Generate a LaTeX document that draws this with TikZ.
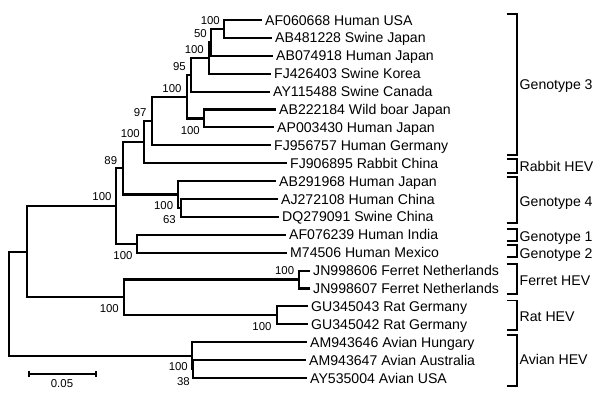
\documentclass[tikz,border=0pt]{standalone}
\usepackage{fontspec}
\setmainfont{Liberation Sans}
\begin{document}
\begin{tikzpicture}[x=1pt,y=-1pt,
  tree/.style={line width=2.1pt, line join=miter},
  brk/.style={line width=1.6pt, line join=miter},
  leaf/.style={anchor=west, inner xsep=3pt, inner ysep=0pt, font=\fontsize{14.1}{16}\selectfont, text height=10.1pt, text depth=0pt},
  boot/.style={anchor=east, inner sep=0pt, font=\fontsize{11.4}{13}\selectfont, text height=8.2pt, text depth=0pt},
  grp/.style={anchor=west, inner sep=0pt, font=\fontsize{14.1}{16}\selectfont, text height=10.1pt, text depth=0pt}]
\useasboundingbox[fill=white] (0,0) rectangle (600,396);
% internal nodes
\coordinate (root) at (9,303.7);
\coordinate (N) at (27.3,251.7);
\coordinate (M) at (116,206);
\coordinate (K) at (122.7,168.3);
\coordinate (H) at (144,142.1);
\coordinate (G) at (151.7,121);
\coordinate (F) at (187,96.6);
\coordinate (D) at (190.7,74.8);
\coordinate (C) at (209,58);
\coordinate (B) at (210.7,42.4);
\coordinate (A) at (224,28.95);
\coordinate (E) at (204,118.45);
\coordinate (I) at (178,194.5);
\coordinate (J) at (181,208);
\coordinate (L) at (137.3,243.7);
\coordinate (O) at (124,297.4);
\coordinate (P) at (299,279.5);
\coordinate (Q) at (277.3,315.3);
\coordinate (R) at (192,355.6);
\coordinate (S) at (193,369);
% leaves
\node[leaf] (l1) at (262,20) {AF060668 Human USA};
\node[leaf] (l2) at (272,37.9) {AB481228 Swine Japan};
\node[leaf] (l3) at (273,55.8) {AB074918 Human Japan};
\node[leaf] (l4) at (271,73.7) {FJ426403 Swine Korea};
\node[leaf] (l5) at (270,91.6) {AY115488 Swine Canada};
\node[leaf] (l6) at (276,109.5) {AB222184 Wild boar Japan};
\node[leaf] (l7) at (274,127.4) {AP003430 Human Japan};
\node[leaf] (l8) at (271,145.3) {FJ956757 Human Germany};
\node[leaf] (l9) at (287,163.2) {FJ906895 Rabbit China};
\node[leaf] (l10) at (276,181.1) {AB291968 Human Japan};
\node[leaf] (l11) at (278,199) {AJ272108 Human China};
\node[leaf] (l12) at (279,216.9) {DQ279091 Swine China};
\node[leaf] (l13) at (286,234.8) {AF076239 Human India};
\node[leaf] (l14) at (287,252.7) {M74506 Human Mexico};
\node[leaf] (l15) at (310,270.6) {JN998606 Ferret Netherlands};
\node[leaf] (l16) at (310,288.5) {JN998607 Ferret Netherlands};
\node[leaf] (l17) at (308,306.4) {GU345043 Rat Germany};
\node[leaf] (l18) at (308,324.3) {GU345042 Rat Germany};
\node[leaf] (l19) at (307,342.2) {AM943646 Avian Hungary};
\node[leaf] (l20) at (306,360.1) {AM943647 Avian Australia};
\node[leaf] (l21) at (307,378) {AY535004 Avian USA};
% edges
\foreach \p/\c in {root/N, root/R, N/M, N/O, M/K, M/L, K/H, K/I, H/G, H/l9.west,
  G/F, G/l8.west, F/D, F/E, D/C, D/l5.west, C/B, C/l4.west, B/A, B/l3.west,
  A/l1.west, A/l2.west, E/l6.west, E/l7.west, I/l10.west, I/J, J/l11.west, J/l12.west,
  L/l13.west, L/l14.west, O/P, O/Q, P/l15.west, P/l16.west, Q/l17.west, Q/l18.west,
  R/l19.west, R/S, S/l20.west, S/l21.west}
  \draw[tree] (\p) |- (\c);
% bootstrap values
\node[boot] (bA) at (220,20.7) {100};
\node[boot] (bB) at (207,33.5) {50};
\node[boot] (bC) at (204,49.3) {100};
\node[boot] (bD) at (186,66.7) {95};
\node[boot] (bF) at (181.7,88.3) {100};
\node[boot] (bE) at (200,130) {100};
\node[boot] (bG) at (146.7,112.7) {97};
\node[boot] (bH) at (140,133.3) {100};
\node[boot] (bK) at (117.3,160) {89};
\node[boot] (bM) at (111.7,196.7) {100};
\node[boot] (bI) at (173.3,205.7) {100};
\node[boot] (bJ) at (176,219.3) {63};
\node[boot] (bL) at (132.7,255) {100};
\node[boot] (bO) at (119,308.3) {100};
\node[boot] (bP) at (294.3,270.7) {100};
\node[boot] (bQ) at (271.7,326.7) {100};
\node[boot] (bR) at (188,366.7) {100};
\node[boot] (bS) at (190,381) {38};
% brackets
\foreach \t/\b in {14/155, 159/173, 177/223, 229/241, 245/257, 264/294, 300.5/330, 335/386}
  \draw[brk] (506.7,\t) -- (516.7,\t) -- (516.7,\b) -- (506.7,\b);
\node[grp] (g3) at (519.5,84.3) {Genotype 3};
\node[grp] (gr) at (519.5,166) {Rabbit HEV};
\node[grp] (g4) at (519.5,201) {Genotype 4};
\node[grp] (g1) at (519.5,236) {Genotype 1};
\node[grp] (g2) at (519.5,253.5) {Genotype 2};
\node[grp] (gf) at (519.5,280) {Ferret HEV};
\node[grp] (grt) at (519.5,316) {Rat HEV};
\node[grp] (ga) at (519.5,359) {Avian HEV};
% scale bar
\coordinate (s1) at (29,374);
\coordinate (s2) at (95.7,374);
\draw[line width=1.6pt] (s1) -- (s2);
\draw[line width=1.6pt] ([yshift=-3pt]s1) -- ([yshift=3pt]s1);
\draw[line width=1.6pt] ([yshift=-3pt]s2) -- ([yshift=3pt]s2);
\node[boot, anchor=center] (sl) at (62,383.5) {0.05};
\end{tikzpicture}
\end{document}
